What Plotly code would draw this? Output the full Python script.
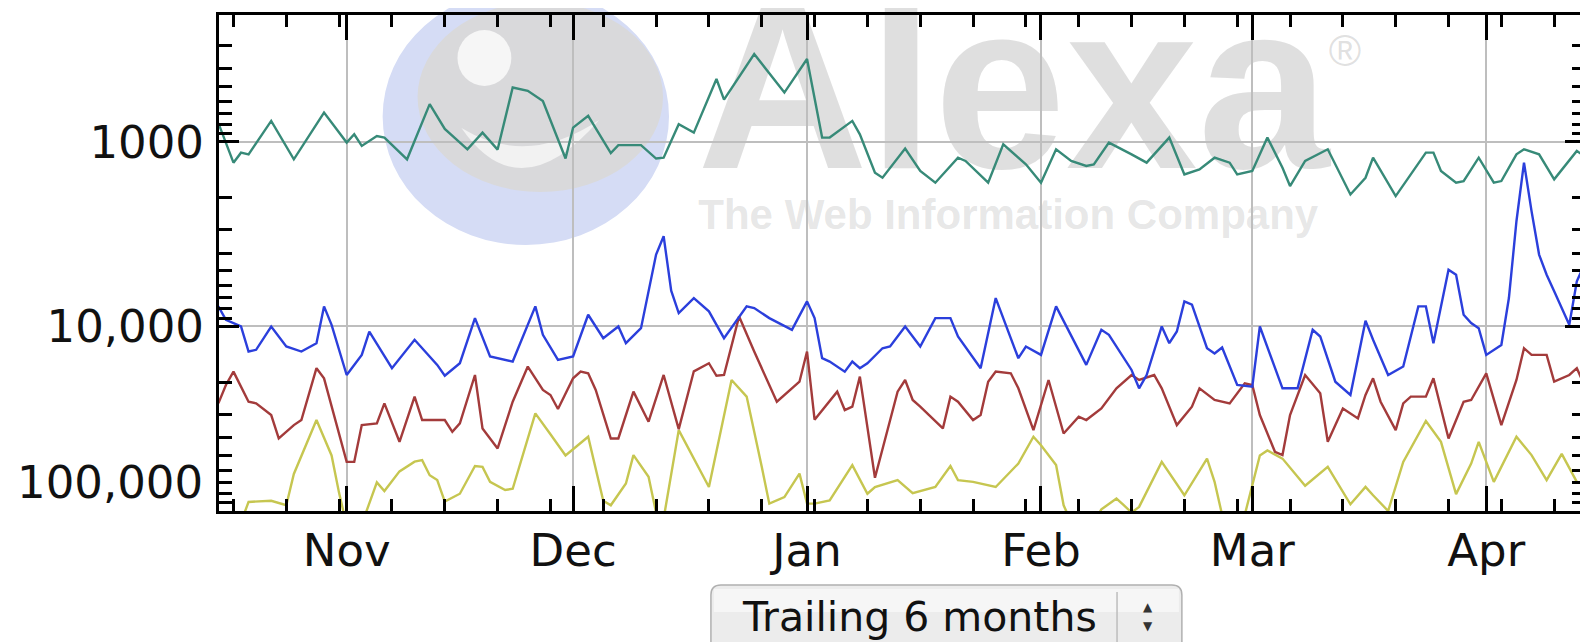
import plotly.graph_objects as go
import pandas as pd

# ---------------- data (Alexa traffic rank, day number counted from 2008-11-01) ----------------
START = "2008-11-01"

teal_days = [-17, -15, -14, -13, -10, -7, -3, 0, 1, 2, 4, 5, 8, 11, 13, 16, 18, 20, 22, 24,
             26, 29, 30, 32, 35, 36, 39, 41, 42, 44, 46, 49, 50, 54, 58, 61, 63, 64, 67, 68,
             70, 71, 74, 76, 78, 81, 82, 85, 87, 90, 92, 94, 96, 98, 99, 101, 104, 106, 109, 111,
             113, 115, 117, 118, 120, 122, 124, 125, 127, 130, 133, 135, 136, 139, 141, 143, 144, 145, 147, 148,
             150, 152, 153, 155, 156, 158, 160, 163, 164]
teal_rank = [790, 1295, 1143, 1167, 769, 1242, 693, 1008, 909, 1051, 928, 947, 1242, 624, 850, 1096, 890, 1100, 507, 528,
             600, 1230, 836, 722, 1150, 1040, 1040, 1230, 1217, 802, 890, 456, 590, 334, 540, 355, 947, 947, 769, 909,
             1468, 1563, 1085, 1437, 1663, 1217, 1268, 1663, 1030, 1322, 1663, 1096, 1268, 1350, 1322, 1008, 1167, 1295, 947, 1499,
             1408, 1217, 1295, 1499, 1437, 947, 1379, 1734, 1268, 1096, 1925, 1563, 1217, 1965, 1499, 1143, 1143, 1437, 1663, 1629,
             1217, 1663, 1629, 1167, 1096, 1167, 1595, 1119, 1191]

blue_days = [-17, -16, -14, -13, -12, -10, -8, -6, -4, -3, -2, 0, 2, 3, 6, 9, 12, 13, 15, 17,
             19, 22, 25, 26, 28, 30, 32, 34, 36, 37, 39, 41, 42, 43, 44, 46, 48, 50, 53, 54,
             56, 59, 61, 62, 63, 64, 66, 67, 68, 69, 71, 72, 74, 76, 78, 80, 81, 84, 86, 89,
             90, 92, 94, 98, 100, 101, 104, 105, 106, 108, 109, 110, 111, 112, 114, 115, 116, 118, 120, 121,
             124, 126, 128, 129, 131, 133, 135, 136, 138, 140, 142, 143, 144, 146, 147, 148, 149, 150, 151, 153,
             154, 155, 156, 157, 158, 159, 160, 162, 163, 164]
blue_rank = [7785, 9200, 10000, 13670, 13380, 10000, 12840, 13670, 12320, 7785, 9795, 18320, 14260, 10650, 16830, 11810, 16150, 18500, 15820, 9010,
             14550, 15490, 7785, 11090, 15180, 14550, 8640, 11570, 10000, 12320, 10210, 4077, 3243, 6400, 8465, 7015, 8280, 11570, 7785, 7950,
             9010, 10420, 7310, 9010, 14860, 15490, 17570, 15490, 16830, 15820, 13120, 12840, 10000, 12840, 9010, 9010, 11330, 16830, 7015, 14860,
             12840, 14260, 7785, 16150, 10420, 11090, 17200, 21630, 18320, 10000, 12320, 10650, 7310, 7615, 13120, 14000, 13000, 20750, 21180, 10000,
             21630, 21630, 10420, 11330, 19920, 23510, 9300, 11810, 18320, 16490, 7785, 7785, 12320, 4920, 5240, 8640, 9590, 10210, 14260, 12590,
             7015, 2690, 1295, 2371, 4077, 5240, 6450, 9795, 5690, 4620]

red_days = [-17, -16, -15, -13, -12, -10, -9, -7, -6, -4, -3, 0, 1, 2, 4, 5, 7, 9, 10, 13,
            14, 15, 17, 18, 20, 22, 24, 26, 27, 28, 30, 31, 32, 33, 35, 36, 38, 40, 42, 44,
            46, 48, 49, 50, 52, 54, 57, 60, 61, 62, 65, 66, 67, 68, 70, 73, 74, 75, 76, 79,
            80, 81, 83, 84, 85, 86, 88, 89, 91, 93, 95, 97, 98, 100, 102, 104, 105, 107, 108, 110,
            112, 113, 115, 117, 119, 120, 121, 123, 124, 125, 127, 129, 130, 132, 134, 135, 136, 137, 139, 140,
            141, 143, 144, 146, 148, 149, 151, 153, 155, 156, 157, 159, 160, 162, 163, 164]
red_rank = [26100, 20750, 17570, 25570, 26100, 30200, 40460, 34230, 32140, 16830, 19100, 54200, 54200, 34230, 33500, 26100, 42170, 23990, 32140, 32140,
            37210, 33500, 18320, 35710, 45820, 25570, 16490, 22080, 23510, 28000, 19100, 17570, 17940, 22080, 40460, 40460, 22550, 32810, 18320, 36000,
            17500, 15820, 18500, 18320, 8820, 13670, 25570, 19920, 13670, 32000, 22550, 28380, 27220, 18700, 66000, 22550, 19500, 25030, 27220, 35710,
            23990, 25570, 32140, 30200, 19920, 17570, 17940, 21630, 36460, 19500, 38000, 30830, 32140, 27800, 21630, 18320, 19500, 18320, 21630, 34230,
            27220, 21630, 25030, 26100, 20330, 20750, 30200, 47760, 49770, 30200, 18320, 23030, 42170, 27800, 31490, 23510, 19100, 25570, 36460, 26100,
            23990, 23990, 19100, 40460, 25570, 25030, 17940, 34230, 19500, 13120, 14260, 14260, 19920, 18320, 16830, 20750]

yellow_days = [-17, -14, -13, -10, -8, -7, -4, -2, -1, 0, 2, 4, 5, 7, 9, 10, 11, 12, 13, 15,
               17, 18, 19, 21, 22, 25, 27, 29, 32, 34, 35, 37, 38, 40, 41, 42, 44, 48, 51, 53,
               55, 56, 58, 60, 61, 62, 64, 67, 69, 70, 73, 75, 78, 80, 81, 83, 86, 89, 91, 92,
               94, 95, 96, 99, 100, 102, 103, 104, 105, 108, 111, 114, 115, 116, 119, 121, 122, 124, 127, 130,
               133, 135, 136, 138, 140, 143, 145, 147, 149, 150, 152, 155, 157, 159, 161, 163, 164]
yellow_rank = [140000, 115000, 89300, 88000, 93000, 63000, 32140, 50000, 80000, 120000, 118000, 70000, 78000, 61000, 54000, 53000, 64000, 68000, 89000, 80600,
               57000, 57650, 69500, 77000, 75800, 29580, 38400, 50000, 39600, 88000, 93100, 71000, 49770, 65300, 102000, 110000, 36460, 74100, 19500, 23990,
               57650, 91200, 84000, 62700, 91200, 91200, 87600, 56400, 80600, 74100, 68000, 80000, 74100, 57000, 68000, 69500, 74100, 55300, 39600, 44000,
               56400, 93100, 115000, 115000, 98000, 85700, 93100, 102000, 95000, 54200, 82200, 52000, 69500, 105000, 105000, 50000, 47000, 52000, 73000, 57650,
               92000, 74000, 82200, 100000, 54200, 32500, 42170, 81000, 55300, 42170, 69500, 39600, 49770, 68000, 49000, 69500, 71000]

y_tick_values = [1000, 10000, 100000]
y_tick_labels = ["1000", "10,000", "100,000"]
y_minor_values = [m * 10 ** e for e in (2, 3, 4) for m in range(2, 10) if m * 10 ** e >= 300]

# ---------------- geometry (page has an 8px body margin) ----------------
OFF = 8
W, H = 1588 - OFF, 642 - OFF
L, R, T, B = 211, 0, 7, 131
FONT = "DejaVu Sans"
PW, PH = W - L - R, H - T - B


def px(X):  # page pixel -> paper fraction
    return (X - OFF - L) / PW


def py(Y):
    return (T + PH - (Y - OFF)) / PH


def to_dates(days):
    return pd.Timestamp(START) + pd.to_timedelta(days, unit="D")


fig = go.Figure()
series = [
    (yellow_days, yellow_rank, "#c6c650"),
    (red_days, red_rank, "#a33b3b"),
    (blue_days, blue_rank, "#2b3fdc"),
    (teal_days, teal_rank, "#378a78"),
]
for days, rank, color in series:
    fig.add_trace(go.Scatter(x=to_dates(days), y=rank, mode="lines",
                             line=dict(color=color, width=2.4),
                             hoverinfo="skip", showlegend=False))

fig.update_layout(
    width=W, height=H,
    margin=dict(l=L, r=R, t=T, b=B, pad=0),
    paper_bgcolor="white", plot_bgcolor="white",
    showlegend=False,
    font=dict(family=FONT, size=45, color="#111111"),
)

fig.update_xaxes(
    type="date", range=["2008-10-15 02:00", "2009-04-14 02:00"],
    dtick="M1", tick0="2008-11-01", tickformat="%b",
    ticks="inside", ticklen=25, tickwidth=3, tickcolor="black",
    showline=True, linewidth=3, linecolor="black", mirror="allticks",
    showgrid=True, gridcolor="#bebebe", gridwidth=2, zeroline=False,
    ticklabelstandoff=-2,
    minor=dict(dtick=7 * 86400000, tick0="2008-10-17", ticks="inside", ticklen=12,
               tickwidth=3, tickcolor="black", showgrid=False),
)

fig.update_yaxes(
    type="log", range=[5, 2.312],
    tickvals=y_tick_values, ticktext=[y_tick_labels[0], y_tick_labels[1], ""],
    ticks="inside", ticklen=20, tickwidth=3, tickcolor="black",
    showline=True, linewidth=3, linecolor="black", mirror="allticks",
    showgrid=True, gridcolor="#bebebe", gridwidth=2, zeroline=False,
    ticklabelstandoff=3,
    minor=dict(tickvals=y_minor_values, ticks="inside", ticklen=13,
               tickwidth=3, tickcolor="black", showgrid=False),
)

# bottom label sits just above the bottom frame
fig.add_annotation(xref="paper", x=0, xanchor="right", xshift=-14,
                   yref="y", y=5, yanchor="middle", yshift=29,
                   text=y_tick_labels[2], showarrow=False,
                   font=dict(family=FONT, size=45, color="#111111"))

# ---------------- Alexa watermark (under the grid) ----------------
fig.add_shape(type="circle", xref="paper", yref="paper", layer="below",
              x0=px(383), x1=px(670), y0=py(245), y1=py(-12),
              fillcolor="#d5dcf5", line=dict(width=0))
fig.add_shape(type="circle", xref="paper", yref="paper", layer="below",
              x0=px(418), x1=px(664), y0=py(192), y1=py(2),
              fillcolor="#d9d9db", line=dict(width=0))
fig.add_shape(type="circle", xref="paper", yref="paper", layer="below",
              x0=px(458), x1=px(512), y0=py(86), y1=py(30),
              fillcolor="#f6f6f6", line=dict(width=0))
crescent = (f"M {px(462)},{py(128)} Q {px(520)},{py(212)} {px(600)},{py(120)} "
            f"Q {px(528)},{py(168)} {px(462)},{py(128)} Z")
fig.add_shape(type="path", path=crescent, xref="paper", yref="paper", layer="below",
              fillcolor="#f2f2f2", line=dict(width=0))

fig.add_shape(type="rect", xref="paper", yref="paper", layer="below",
              x0=px(690), x1=px(1340), y0=py(168), y1=py(-42),
              fillcolor="rgba(0,0,0,0)", line=dict(width=0),
              label=dict(text="Alexa", textposition="middle center",
                         font=dict(family="Liberation Sans", size=237, weight="bold",
                                   color="rgba(150,150,150,0.30)")))
fig.add_shape(type="rect", xref="paper", yref="paper", layer="below",
              x0=px(1325), x1=px(1370), y0=py(68), y1=py(24),
              fillcolor="rgba(0,0,0,0)", line=dict(width=0),
              label=dict(text="®", textposition="middle center",
                         font=dict(family="Liberation Sans", size=44,
                                   color="rgba(150,150,150,0.30)")))
fig.add_shape(type="rect", xref="paper", yref="paper", layer="below",
              x0=px(690), x1=px(1330), y0=py(235), y1=py(185),
              fillcolor="rgba(0,0,0,0)", line=dict(width=0),
              label=dict(text="The Web Information Company", textposition="middle center",
                         font=dict(family="Liberation Sans", size=42,
                                   weight="bold", color="rgba(150,150,150,0.24)")))

# ---------------- "Trailing 6 months" selector ----------------
rx = 10
x0b, x1b, y0b, y1b = 712, 1184, 585, 670
box = (f"M {px(x0b + rx)},{py(y0b)} L {px(x1b - rx)},{py(y0b)} "
       f"Q {px(x1b)},{py(y0b)} {px(x1b)},{py(y0b + rx)} L {px(x1b)},{py(y1b)} "
       f"L {px(x0b)},{py(y1b)} L {px(x0b)},{py(y0b + rx)} Q {px(x0b)},{py(y0b)} {px(x0b + rx)},{py(y0b)} Z")
fig.add_shape(type="path", path=box, xref="paper", yref="paper", layer="above",
              fillcolor="#ececec", line=dict(color="#b0b0b0", width=1.5))
fig.add_shape(type="rect", xref="paper", yref="paper", layer="above",
              x0=px(715), x1=px(1181), y0=py(612), y1=py(589),
              fillcolor="#f6f6f6", line=dict(width=0))
fig.add_shape(type="line", xref="paper", yref="paper", layer="above",
              x0=px(1119), x1=px(1119), y0=py(592), y1=py(642),
              line=dict(color="#bdbdbd", width=1.5))
fig.add_annotation(xref="paper", yref="paper", x=px(921), y=py(617),
                   xanchor="center", yanchor="middle", showarrow=False,
                   text="Trailing 6 months",
                   font=dict(family=FONT, size=41, color="#111111"))
fig.add_annotation(xref="paper", yref="paper", x=px(1150), y=py(607),
                   xanchor="center", yanchor="middle", showarrow=False,
                   text="▲", font=dict(family=FONT, size=12, color="#333333"))
fig.add_annotation(xref="paper", yref="paper", x=px(1150), y=py(626),
                   xanchor="center", yanchor="middle", showarrow=False,
                   text="▼", font=dict(family=FONT, size=12, color="#333333"))

fig.write_html("out.html")
